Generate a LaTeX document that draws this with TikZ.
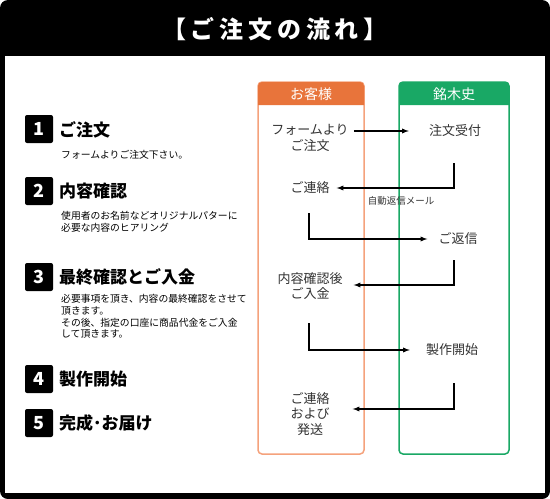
\documentclass[tikz,border=0pt]{standalone}
\usepackage{fontspec}
\setmainfont{Noto Sans CJK JP}
\newfontfamily\titolofont{Noto Sans CJK JP}[LetterSpace=20]
\definecolor{arancio}{HTML}{E8743B}
\definecolor{salmone}{HTML}{F5A27C}
\definecolor{verde}{HTML}{19A865}
\definecolor{grigio}{HTML}{333333}
\tikzset{
  numero/.style={fill=black, rounded corners=2pt, minimum size=28pt, inner sep=0pt, text=white, font=\bfseries\fontsize{18}{18}\selectfont},
  passo/.style={anchor=west, inner sep=0pt, font=\bfseries\fontsize{17}{17}\selectfont},
  nota/.style={anchor=north west, align=left, inner sep=0pt, font=\fontsize{9.8}{11.8}\selectfont},
  voce/.style={align=center, inner sep=1pt, text=grigio, font=\fontsize{13}{15.5}\selectfont},
  testata/.style={text=white, font=\fontsize{14}{14}\selectfont},
  freccia/.style={-latex, line width=1.3pt},
}
\begin{document}
\begin{tikzpicture}[x=1pt,y=-1pt]
        %cornice
        \fill[black, rounded corners=8pt] (0,0) rectangle (550,499);
        \fill[white] (5,56) rectangle (545,493);
        \node[text=white, font=\titolofont\bfseries\fontsize{24}{24}\selectfont] (titolo) at (275,29) {【ご注文の流れ】};
        % passi a sinistra
        \node[numero] (n1) at (39,129) {1};
        \node[passo] (p1) at (59,130) {ご注文};
        \node[nota] (t1) at (61,150) {フォームよりご注文下さい。};
        \node[numero] (n2) at (39,191) {2};
        \node[passo] (p2) at (59,191) {内容確認};
        \node[nota] (t2) at (61,211) {使用者のお名前などオリジナルパターに\\必要な内容のヒアリング};
        \node[numero] (n3) at (39,277) {3};
        \node[passo] (p3) at (59,277) {最終確認とご入金};
        \node[nota] (t3) at (61,294) {必要事項を頂き、内容の最終確認をさせて\\頂きます。\\その後、指定の口座に商品代金をご入金\\して頂きます。};
        \node[numero] (n4) at (39,379) {4};
        \node[passo] (p4) at (59,379) {製作開始};
        \node[numero] (n5) at (39,423) {5};
        \node[passo] (p5) at (59,423) {完成･お届け};
        % colonna cliente
        \draw[salmone, line width=1.5pt, rounded corners=4pt] (258,82) rectangle (364,454);
        \fill[arancio] (258,105) [rounded corners=4pt] -- (258,82) -- (364,82) [sharp corners] -- (364,105) -- cycle;
        \node[testata] (cliente) at (311,94) {お客様};
        % colonna negozio
        \draw[verde, line width=1.5pt, rounded corners=4pt] (399,82) rectangle (509,454);
        \fill[verde] (399,105) [rounded corners=4pt] -- (399,82) -- (509,82) [sharp corners] -- (509,105) -- cycle;
        \node[testata] (negozio) at (454,94) {銘木史};
        % voci
        \node[voce] (ordine) at (310,138) {フォームより\\ご注文};
        \node[voce] (contatto) at (310,188) {ご連絡};
        \node[voce] (pagamento) at (310,286) {内容確認後\\ご入金};
        \node[voce] (spedizione) at (310,414) {ご連絡\\および\\発送};
        \node[voce] (ricevuto) at (455,131) {注文受付};
        \node[voce] (risposta) at (458,239) {ご返信};
        \node[voce] (produzione) at (452,350) {製作開始};
        % frecce
        \coordinate (g1) at (454,163);
        \coordinate (o1) at (309,213);
        \coordinate (g2) at (454,260);
        \coordinate (o2) at (309,323);
        \coordinate (g3) at (454,383);
        \draw[freccia] ([xshift=4pt]ordine.east |- ricevuto.west) -- ([xshift=-19pt]ricevuto.west);
        \draw[freccia] (g1) |- ([xshift=6pt]contatto.east);
        \node[font=\fontsize{9.5}{9.5}\selectfont, text=grigio] (automatica) at (401,201) {自動返信メール};
        \draw[freccia] (o1) |- ([xshift=-10pt]risposta.west);
        \draw[freccia] (g2) |- ([xshift=10pt,yshift=1pt]pagamento.east);
        \draw[freccia] (o2) |- ([xshift=-15pt]produzione.west);
        \draw[freccia] (g3) |- ([xshift=22pt,yshift=5pt]spedizione.east);
\end{tikzpicture}
\end{document}
